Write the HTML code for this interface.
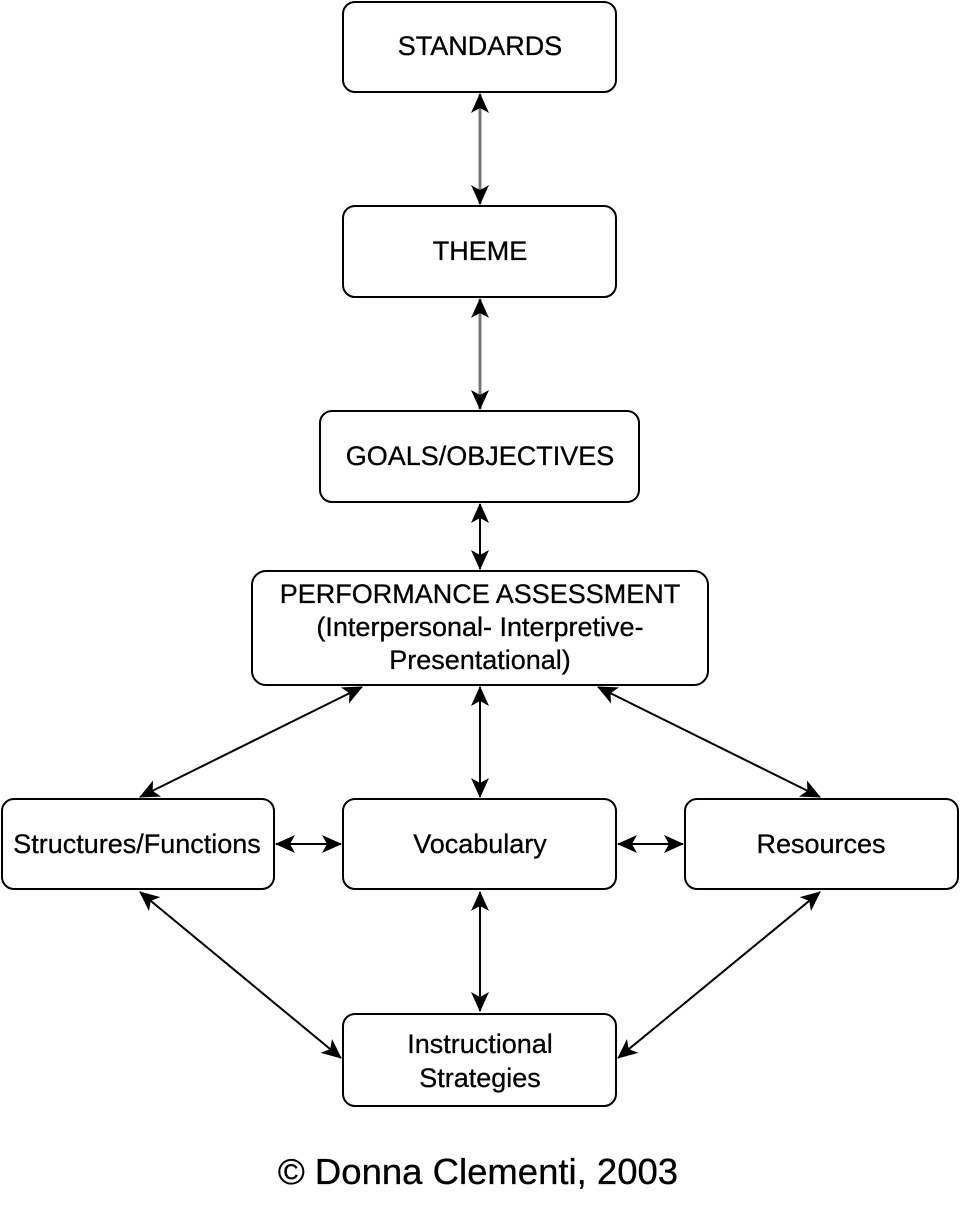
<!DOCTYPE html>
<html><head><meta charset="utf-8"><style>
html,body{margin:0;padding:0;background:#fff;}
svg{display:block;}
text{font-family:"Liberation Sans",sans-serif;fill:#000;stroke:#000;stroke-width:0.3;}
</style></head><body>
<svg width="960" height="1211" viewBox="0 0 960 1211" xmlns="http://www.w3.org/2000/svg">
<defs>
<marker id="a" viewBox="0 0 20 20" refX="19" refY="10" markerWidth="20" markerHeight="20" markerUnits="userSpaceOnUse" orient="auto-start-reverse">
<path d="M0,1 L20,10 L0,19 L5,10 Z" fill="#000"/>
</marker>
</defs>
<g fill="#fff" stroke="#000" stroke-width="2">
<rect x="343" y="2" width="273" height="90" rx="12"/>
<rect x="343" y="206" width="273" height="91" rx="12"/>
<rect x="320" y="411" width="319" height="91" rx="12"/>
<rect x="252" y="571" width="456" height="114" rx="14"/>
<rect x="2" y="799" width="272" height="90" rx="12"/>
<rect x="343" y="799" width="273" height="90" rx="12"/>
<rect x="685" y="799" width="273" height="90" rx="12"/>
<rect x="343" y="1014" width="273" height="92" rx="12"/>
</g>
<g stroke-width="2" fill="none" marker-start="url(#a)" marker-end="url(#a)">
<line x1="480" y1="94" x2="480" y2="204" stroke="#777" stroke-width="3"/>
<line x1="480" y1="299" x2="480" y2="409" stroke="#777" stroke-width="3"/>
<line x1="480" y1="504" x2="480" y2="569" stroke="#000"/>
<line x1="480" y1="687" x2="480" y2="797" stroke="#000"/>
<line x1="362" y1="687" x2="140" y2="797" stroke="#000"/>
<line x1="598" y1="687" x2="820" y2="797" stroke="#000"/>
<line x1="276" y1="844" x2="341" y2="844" stroke="#000"/>
<line x1="618" y1="844" x2="683" y2="844" stroke="#000"/>
<line x1="140" y1="892" x2="341" y2="1058" stroke="#000"/>
<line x1="480" y1="892" x2="480" y2="1011" stroke="#000"/>
<line x1="820" y1="892" x2="618" y2="1058" stroke="#000"/>
</g>
<g font-size="27" text-anchor="middle">
<text x="480" y="55">STANDARDS</text>
<text x="480" y="260">THEME</text>
<text x="480" y="465">GOALS/OBJECTIVES</text>
<text x="480" y="603">PERFORMANCE ASSESSMENT</text>
<text x="480" y="636">(Interpersonal- Interpretive-</text>
<text x="480" y="669">Presentational)</text>
<text x="137" y="853">Structures/Functions</text>
<text x="480" y="853">Vocabulary</text>
<text x="821" y="853">Resources</text>
<text x="480" y="1053">Instructional</text>
<text x="480" y="1087">Strategies</text>
<text x="478" y="1184" font-size="36.5">© Donna Clementi, 2003</text>
</g>
</svg>
</body></html>
